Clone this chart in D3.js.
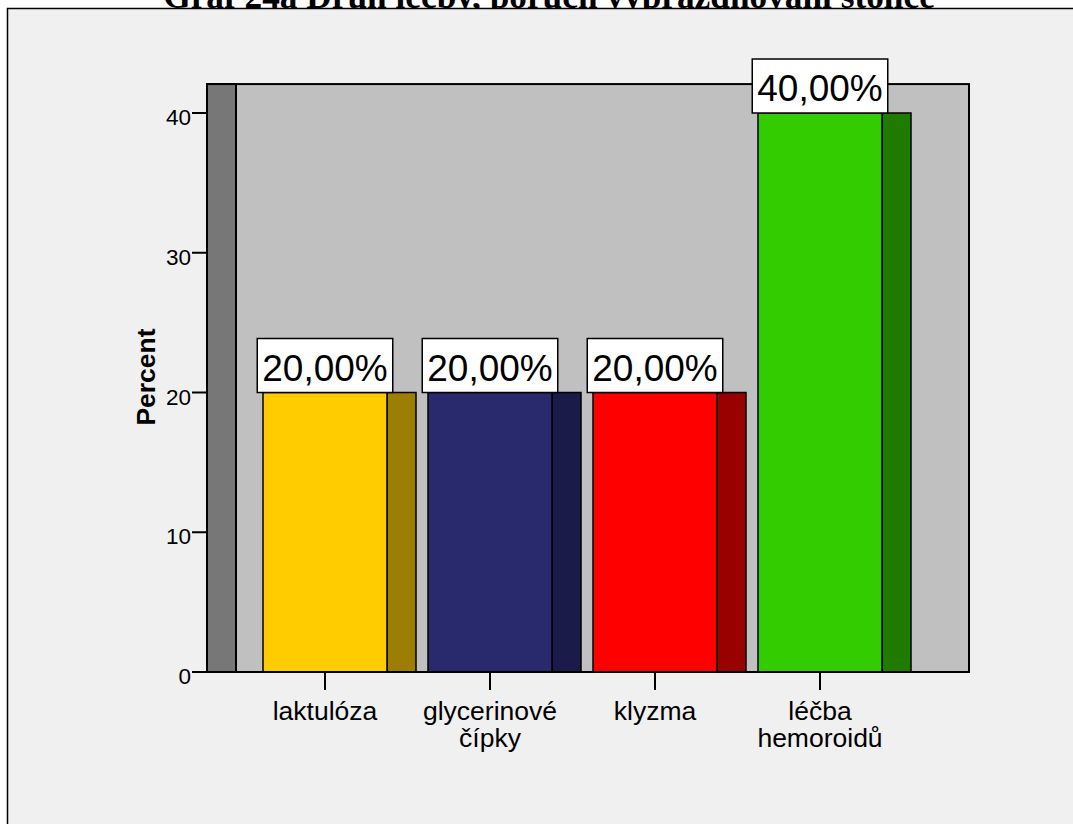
<!DOCTYPE html>
<html>
<head>
<meta charset="utf-8">
<script src="https://cdn.jsdelivr.net/npm/d3@7"></script>
<style>
  html, body { margin: 0; padding: 0; background: #ffffff; }
  svg { display: block; }
</style>
</head>
<body>
<svg id="chart" width="1073" height="824"></svg>
<script>
// Chart data
const titleText = "Graf 24a Druh léčby, poruch vyprazdňování stolice";
const categories = ["laktulóza", "glycerinové čípky", "klyzma", "léčba hemoroidů"];
const categoryLines = [["laktulóza"], ["glycerinové", "čípky"], ["klyzma"], ["léčba", "hemoroidů"]];
const percentValues = [20, 20, 20, 40];
const frontColors = ["#FFCC00", "#29296E", "#FF0000", "#33CC00"];
const sideColors = ["#9C7F00", "#1B1B4A", "#990000", "#1F7A00"];
const yTicks = [0, 10, 20, 30, 40];
const yAxisTitle = "Percent";

const svg = d3.select("#chart");
const sans = "'Liberation Sans', Arial, sans-serif";

// Title (sits behind the panel, only its lower part shows)
const title = svg.append("text")
  .attr("x", 549).attr("y", 7.5)
  .attr("text-anchor", "middle")
  .attr("font-family", "'Liberation Serif', 'Times New Roman', serif")
  .attr("font-weight", "bold")
  .attr("font-size", 30)
  .attr("fill", "#000")
  .text(titleText);
const tw = title.node().getComputedTextLength();
title.attr("font-size", 30 * 772 / tw);

// Panel
svg.append("rect")
  .attr("x", 7.5).attr("y", 8.5)
  .attr("width", 1100).attr("height", 900)
  .attr("fill", "#F0F0F0")
  .attr("stroke", "#000").attr("stroke-width", 1.5);

// Scales
const y = d3.scaleLinear().domain([0, 40]).range([672, 113]);
const x = d3.scaleBand().domain(categories).range([263, 882])
  .paddingInner(0.2485).paddingOuter(0);
const depth = 29;

const boxLeft = 207, boxRight = 969, boxTopVal = 42.07;

// Back box and left wall
svg.append("rect")
  .attr("x", boxLeft).attr("y", y(boxTopVal))
  .attr("width", boxRight - boxLeft).attr("height", y(0) - y(boxTopVal))
  .attr("fill", "#C0C0C0").attr("stroke", "#000").attr("stroke-width", 2);
svg.append("rect")
  .attr("x", boxLeft).attr("y", y(boxTopVal))
  .attr("width", depth).attr("height", y(0) - y(boxTopVal))
  .attr("fill", "#777777").attr("stroke", "#000").attr("stroke-width", 2);

// Bars: front face and darker side face
const bars = svg.append("g");
bars.selectAll("rect.side").data(percentValues).join("rect")
  .attr("class", "side")
  .attr("x", (d, i) => x(categories[i]) + x.bandwidth())
  .attr("y", d => y(d))
  .attr("width", depth)
  .attr("height", d => y(0) - y(d))
  .attr("fill", (d, i) => sideColors[i])
  .attr("stroke", "#000").attr("stroke-width", 1.5);
bars.selectAll("rect.front").data(percentValues).join("rect")
  .attr("class", "front")
  .attr("x", (d, i) => x(categories[i]))
  .attr("y", d => y(d))
  .attr("width", x.bandwidth())
  .attr("height", d => y(0) - y(d))
  .attr("fill", (d, i) => frontColors[i])
  .attr("stroke", "#000").attr("stroke-width", 1.5);

// Axis baseline
svg.append("line")
  .attr("x1", 192).attr("x2", boxRight)
  .attr("y1", y(0)).attr("y2", y(0))
  .attr("stroke", "#000").attr("stroke-width", 2);

// Y ticks
const yAxis = svg.append("g");
yTicks.forEach(t => {
  yAxis.append("line")
    .attr("x1", 192).attr("x2", boxLeft)
    .attr("y1", y(t)).attr("y2", y(t))
    .attr("stroke", "#000").attr("stroke-width", 2);
  yAxis.append("text")
    .attr("x", 191).attr("y", y(t) + 12)
    .attr("text-anchor", "end")
    .attr("font-family", sans).attr("font-size", 22.5)
    .attr("fill", "#000")
    .text(t);
});

svg.append("text")
  .attr("transform", "translate(155,377) rotate(-90)")
  .attr("text-anchor", "middle")
  .attr("font-family", sans).attr("font-weight", "bold").attr("font-size", 26.5)
  .attr("fill", "#000")
  .text(yAxisTitle);

// X ticks and labels
categories.forEach((c, i) => {
  const cx = x(c) + x.bandwidth() / 2;
  svg.append("line")
    .attr("x1", cx).attr("x2", cx)
    .attr("y1", y(0)).attr("y2", y(0) + 18)
    .attr("stroke", "#000").attr("stroke-width", 2);
  const t = svg.append("text")
    .attr("text-anchor", "middle")
    .attr("font-family", sans).attr("font-size", 26.5)
    .attr("fill", "#000");
  categoryLines[i].forEach((line, k) => {
    t.append("tspan").attr("x", cx).attr("y", 720 + k * 27).text(line);
  });
});

// Value labels
const fmt = v => v.toFixed(2).replace(".", ",") + "%";
percentValues.forEach((v, i) => {
  const cx = x(categories[i]) + x.bandwidth() / 2;
  const g = svg.append("g");
  const box = g.append("rect");
  const t = g.append("text")
    .attr("x", cx).attr("y", y(v) - 12)
    .attr("text-anchor", "middle")
    .attr("font-family", sans).attr("font-size", 37)
    .attr("fill", "#000")
    .text(fmt(v));
  const w = t.node().getComputedTextLength() + 10;
  box.attr("x", cx - w / 2).attr("y", y(v) - 54)
    .attr("width", w).attr("height", 54)
    .attr("fill", "#fff").attr("stroke", "#000").attr("stroke-width", 1.5);
});
</script>
</body>
</html>
